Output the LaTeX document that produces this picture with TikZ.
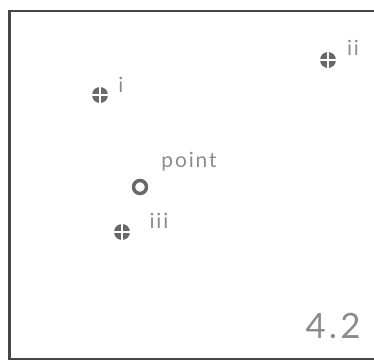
\documentclass[tikz,border=0pt]{standalone}
\usepackage{fontspec}
\newfontfamily\thinfont[LetterSpace=9]{Lato}
\usetikzlibrary{positioning}
\definecolor{frameink}{RGB}{70,70,70}
\definecolor{markgray}{RGB}{105,105,105}
\definecolor{labgray}{RGB}{140,140,140}
\tikzset{
  site/.style={circle, fill=markgray, minimum size=16bp, inner sep=0pt,
               path picture={\draw[white, line width=1.4bp]
                 (path picture bounding box.north) -- (path picture bounding box.south)
                 (path picture bounding box.west) -- (path picture bounding box.east);}},
  ring/.style={circle, draw=markgray, line width=3.5bp, minimum size=13bp, inner sep=0pt},
  tag/.style={font=\thinfont\fontsize{21}{21}\selectfont, text=labgray, inner sep=0pt},
  bigtag/.style={font=\thinfont\fontsize{35}{35}\selectfont, text=labgray, inner sep=0pt},
}
\begin{document}
\begin{tikzpicture}[x=1bp, y=-1bp]
  \useasboundingbox (0,0) rectangle (374,362);
  % frame
  \draw[frameink, line width=2.8bp] (9.5,11) rectangle (378,359);

  % sites and their tags
  \node[site] (s1) at (100,95)  {};
  \node[tag]  (t1) at (121,85)  {i};
  \node[site] (s2) at (328,60)  {};
  \node[tag]  (t2) at (353,48)  {ii};
  \node[ring] (p)  at (140,187) {};
  \node[tag]  (tp) at (189,162) {point};
  \node[site] (s3) at (122,232) {};
  \node[tag]  (t3) at (159,221) {iii};

  \node[bigtag] (num) at (333,326) {4.2};
\end{tikzpicture}
\end{document}
